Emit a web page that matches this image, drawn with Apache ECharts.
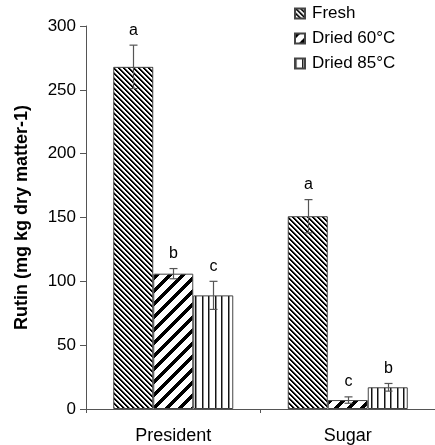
<!DOCTYPE html>
<html>
<head>
<meta charset="utf-8">
<script src="https://cdn.jsdelivr.net/npm/echarts@6/dist/echarts.min.js"></script>
<style>
html,body{margin:0;padding:0;background:#fff;}
#chart{width:435px;height:445px;}
</style>
</head>
<body>
<div id="chart"></div>
<script>
// ---- data ----
const categories = ['President', 'Sugar'];
const seriesNames = ['Fresh', 'Dried 60°C', 'Dried 85°C'];
const fresh = [268, 151];
const dried60 = [106, 7];
const dried85 = [89, 17];
const freshErr = [17, 13];
const dried60Err = [4, 2.5];
const dried85Err = [11, 3];
const freshLetters = ['a', 'a'];
const dried60Letters = ['b', 'c'];
const dried85Letters = ['c', 'b'];
const yTicks = [0, 50, 100, 150, 200, 250, 300];

// ---- patterns ----
function makePattern(w, h, fn) {
  const c = document.createElement('canvas');
  c.width = w; c.height = h;
  const ctx = c.getContext('2d');
  const img = ctx.createImageData(w, h);
  for (let y = 0; y < h; y++) {
    for (let x = 0; x < w; x++) {
      const v = fn(x, y);
      const i = (y * w + x) * 4;
      img.data[i] = v; img.data[i + 1] = v; img.data[i + 2] = v; img.data[i + 3] = 255;
    }
  }
  ctx.putImageData(img, 0, 0);
  return { image: c, repeat: 'repeat' };
}
const pFresh = makePattern(20, 20, (x, y) => { const k = (((x - y) % 5) + 5) % 5; return k < 2 ? 0 : (k === 2 ? 150 : 255); });
const p60 = makePattern(26, 26, (x, y) => ((x + y) % 13) < 5 ? 0 : 255);
const p85 = makePattern(26, 26, (x) => { const k = x % 13; return (k === 0 || k === 7) ? 20 : ((k === 1 || k === 8) ? 140 : 255); });
const patterns = [pFresh, p60, p85];

const values = [fresh, dried60, dried85];
const errs = [freshErr, dried60Err, dried85Err];
const letters = [freshLetters, dried60Letters, dried85Letters];

const BAR_W = 40;
const FONT = '"Liberation Sans", Arial, sans-serif';
const chart = echarts.init(document.getElementById('chart'), null, { renderer: 'canvas' });

const barSeries = seriesNames.map((name, si) => ({
  name: name,
  type: 'bar',
  barWidth: BAR_W,
  barGap: '0%',
  data: values[si],
  itemStyle: { color: patterns[si], borderColor: '#444', borderWidth: 1 },
  emphasis: { disabled: true },
  silent: true,
  z: 2
}));

const errData = [];
for (let si = 0; si < 3; si++) {
  for (let ci = 0; ci < categories.length; ci++) {
    errData.push([ci, values[si][ci], errs[si][ci], si, letters[si][ci]]);
  }
}

const errSeries = {
  type: 'custom',
  name: 'err',
  silent: true,
  z: 5,
  data: errData,
  encode: { x: 0, y: 1 },
  renderItem: function (params, api) {
    const ci = api.value(0), v = api.value(1), e = api.value(2), si = api.value(3);
    const letter = errData[params.dataIndex][4];
    const off = (si - 1) * BAR_W;
    const top = api.coord([ci, v + e]);
    const bot = api.coord([ci, v - e]);
    const x = Math.round(top[0] + off) + 0.5;
    const cap = 4;
    const st = { stroke: '#555', lineWidth: 1.2 };
    return {
      type: 'group',
      children: [
        { type: 'line', shape: { x1: x, y1: top[1], x2: x, y2: bot[1] }, style: st },
        { type: 'line', shape: { x1: x - cap, y1: top[1], x2: x + cap, y2: top[1] }, style: st },
        { type: 'line', shape: { x1: x - cap, y1: bot[1], x2: x + cap, y2: bot[1] }, style: st },
        { type: 'text', x: x, y: top[1] - 7,
          style: { text: letter, fill: '#000', font: '16px ' + FONT,
                   align: 'center', verticalAlign: 'bottom' } }
      ]
    };
  }
};

chart.setOption({
  animation: false,
  backgroundColor: '#fff',
  grid: { left: 86, top: 26, bottom: 35, right: -11 },
  legend: {
    data: seriesNames,
    orient: 'vertical',
    left: 289,
    top: 0,
    icon: 'rect',
    itemWidth: 10,
    itemHeight: 10,
    itemGap: 8,
    textStyle: { color: '#000', fontSize: 17, fontFamily: FONT, padding: [0, 0, 0, 2] },
    selectedMode: false
  },
  xAxis: {
    type: 'category',
    data: categories,
    axisLine: { lineStyle: { color: '#555', width: 1 } },
    axisTick: { show: true, alignWithLabel: false, length: 4, lineStyle: { color: '#555' } },
    axisLabel: { color: '#000', fontSize: 18, fontFamily: FONT, margin: 18 }
  },
  yAxis: {
    type: 'value',
    min: yTicks[0],
    max: yTicks[yTicks.length - 1],
    interval: 50,
    name: 'Rutin (mg kg dry matter-1)',
    nameLocation: 'middle',
    nameGap: 55,
    nameTextStyle: { color: '#000', fontSize: 18, fontWeight: 'bold', fontFamily: FONT },
    axisLine: { show: true, lineStyle: { color: '#555', width: 1 } },
    axisTick: { show: true, inside: false, length: 6, lineStyle: { color: '#555' } },
    splitLine: { show: false },
    axisLabel: { color: '#000', fontSize: 17, fontFamily: FONT, margin: 10 }
  },
  series: barSeries.concat([errSeries])
});
</script>
</body>
</html>
